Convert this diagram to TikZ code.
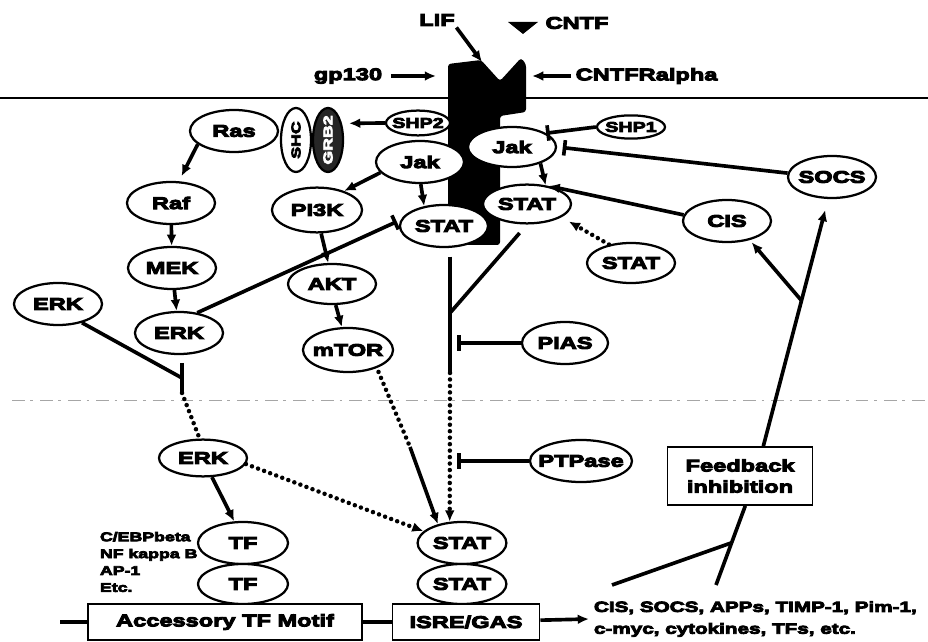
\documentclass[tikz,border=0pt]{standalone}
\usepackage{fontspec}
\usetikzlibrary{shapes.geometric,arrows.meta}
\newfontfamily\blk{Liberation Sans}[UprightFont=* Bold, FakeStretch=1.4, FakeBold=6]

\begin{document}
\begin{tikzpicture}[x=0.025cm, y=-0.025cm,
  prot/.style={ellipse, draw, line width=1.6pt, fill=white, inner xsep=-12pt, inner ysep=0pt,
    minimum width=2.2cm, minimum height=1.05cm, font=\blk\fontsize{12}{14}\selectfont},
  smallprot/.style={font=\blk\fontsize{10}{12}\selectfont},
  vprot/.style={minimum width=0.75cm, minimum height=1.6cm, inner ysep=-8pt, font=\blk\fontsize{9}{11}\selectfont},
  lbl/.style={inner sep=1pt, font=\blk\fontsize{12}{14}\selectfont},
  dnabox/.style={draw, line width=1.2pt, fill=white, inner sep=0pt, font=\blk\fontsize{12}{15}\selectfont},
  link/.style={line width=2.6pt},
  act/.style={link, -{Latex[length=8pt,width=7pt]}},
  inh/.style={link, -{Bar[width=11pt]}},
  dots/.style={line width=3.2pt, dash pattern=on 0pt off 4.6pt, line cap=round},
  dotact/.style={dots, -{Latex[length=8pt,width=7pt]}}]
  \useasboundingbox (0,0) rectangle (928,642);

  % Cell membrane and nuclear envelope
  \draw[line width=1pt] (0,98) -- (928,98);
  \draw[gray!70, line width=0.7pt, dash pattern=on 9pt off 4pt on 2pt off 5pt] (12,400) -- (928,400);

  % Receptor complex
  \fill[rounded corners=2pt] (448,64) -- (481,60) -- (500,81) -- (521,58) -- (526,64)
    -- (526,112) -- (500,116) -- (500,245) -- (448,245) -- cycle;
  \fill (508,22) -- (538,22) -- (523,34) -- cycle; % CNTF
  \coordinate (rLIF) at (482,62);
  \coordinate (rGp) at (436,76);
  \coordinate (rCr) at (532,76);

  \node[lbl] (lif) at (437,20) {LIF};
  \node[lbl] (cntf) at (577,23) {CNTF};
  \node[lbl] (gp) at (348,76) {gp130};
  \node[lbl, anchor=west] (cra) at (574,76) {CNTFRalpha};

  \draw[act] (lif.south east) -- (rLIF);
  \draw[act, shorten <=5pt] (gp) -- (rGp);
  \draw[act, shorten <=2pt] (cra) -- (rCr);

  % Cytoplasm
  \node[prot] (ras) at (234,131) {Ras};
  \node[prot, vprot] (shc) at (296,140) {\rotatebox{90}{SHC}};
  \node[prot, vprot, fill=black!85, text=white] (grb) at (328,140) {\rotatebox{90}{GRB2}};
  \node[prot, smallprot, minimum width=1.6cm, minimum height=0.62cm] (shp2) at (418,123) {SHP2};
  \node[prot] (jakL) at (420,162) {Jak};
  \node[prot, minimum height=1.0cm] (jakR) at (512,147) {Jak};
  \node[prot, smallprot, minimum width=1.7cm, minimum height=0.58cm] (shp1) at (631,127) {SHP1};
  \node[prot] (socs) at (832,177) {SOCS};
  \node[prot] (raf) at (171,203) {Raf};
  \node[prot, minimum width=2.25cm, minimum height=1.12cm] (pi3k) at (317,210) {PI3K};
  \node[prot] (statL) at (444,226) {STAT};
  \node[prot, minimum height=0.97cm] (statR) at (527,204) {STAT};
  \node[prot] (cis) at (727,221) {CIS};
  \node[prot, minimum height=1.0cm] (statC) at (631,263) {STAT};
  \node[prot] (mek) at (172,268) {MEK};
  \node[prot, minimum height=1.0cm] (akt) at (332,284) {AKT};
  \node[prot] (erkL) at (58,304) {ERK};
  \node[prot] (erkM) at (179,333) {ERK};
  \node[prot, minimum width=2.25cm, minimum height=1.1cm] (mtor) at (348,350) {mTOR};
  \node[prot, minimum width=2.15cm] (pias) at (565,343) {PIAS};

  % Nucleus
  \node[prot, minimum width=2.55cm] (ptp) at (581,461) {PTPase};
  \node[prot, minimum height=0.92cm] (erkN) at (203,458) {ERK};
  \node[prot, minimum width=2.25cm] (tf1) at (243,543) {TF};
  \node[prot, minimum width=2.25cm, minimum height=1.0cm] (tf2) at (243,584) {TF};
  \node[prot, minimum width=2.22cm] (statN1) at (462,543) {STAT};
  \node[prot, minimum width=2.22cm, minimum height=1.0cm] (statN2) at (462,584) {STAT};
  \node[anchor=west, align=left, font=\blk\fontsize{9}{12}\selectfont] (tfl) at (95,562)
    {C/EBPbeta\\NF kappa B\\AP-1\\Etc.};

  \node[dnabox, minimum width=6.85cm, minimum height=0.9cm] (acc) at (225,622) {Accessory TF Motif};
  \node[dnabox, minimum width=3.68cm, minimum height=0.9cm] (isre) at (466,622) {ISRE/GAS};
  \node[dnabox, align=center, minimum width=3.62cm, minimum height=1.45cm] (fbk) at (740,476)
    {Feedback\\inhibition};
  \node[anchor=west, align=left, font=\blk\fontsize{10.5}{15.5}\selectfont] (prod) at (589,619)
    {CIS, SOCS, APPs, TIMP-1, Pim-1,\\c-myc, cytokines, TFs, etc.};

  % Free ends of the connectors
  \coordinate (eTop) at (182,363);
  \coordinate (eMid) at (182,378);
  \coordinate (eBot) at (182,393);
  \coordinate (sJoin) at (450,313);
  \coordinate (sDot) at (450,373);
  \coordinate (piasB) at (457,343);
  \coordinate (ptpB) at (457,461);
  \coordinate (mKink) at (410,447);
  \coordinate (dnaL) at (60,622);
  \coordinate (pA) at (612,585);
  \coordinate (pB) at (716,585);
  \coordinate (fJoin) at (731,543);
  \coordinate (fFork) at (801,300);

  % Ras / MAPK branch
  \draw[act, shorten >=5pt] (shp2.west) -- (grb.50);
  \draw[act, shorten >=4pt] (ras.200) -- (raf.70);
  \draw[act] (raf) -- (mek);
  \draw[act] (mek) -- (erkM);
  \draw[inh, shorten >=3pt] (erkM.48) -- (statL.172);
  \draw[link] (erkL.-38) -- (eMid);
  \draw[link] (eTop) -- (eBot);
  \draw[dots] (eBot) -- (erkN.100);
  \draw[act] (erkN.-65) -- (tf1.112);
  \draw[dotact] (erkN.-8) -- (statN1.163);

  % PI3K branch
  \draw[act] (jakL.195) -- (pi3k.35);
  \draw[act] (pi3k.-80) -- (akt.100);
  \draw[act] (akt.-80) -- (mtor.105);
  \draw[dots, shorten <=3pt] (mtor.-32) -- (mKink);
  \draw[act] (mKink) -- (statN1.142);

  % Jak / STAT
  \draw[act] (jakL.-88) -- (statL.135);
  \draw[act] (jakR.-30) -- (statR.45);
  \draw[inh] (shp1.west) -- (jakR.22);
  \draw[inh, shorten >=4pt] (socs.175) -- (jakR.east);
  \draw[act] (cis.172) -- (statR.40);
  \draw[dotact, shorten >=6pt] (statC.140) -- (statR.-21);
  \draw[link, shorten <=6pt] (statL.south -| sDot) -- (sDot);
  \draw[link, shorten <=8pt] (statR.-90) -- (sJoin);
  \draw[dotact] (sDot) -- (statN1.120);
  \draw[inh] (pias) -- (piasB);
  \draw[inh] (ptp) -- (ptpB);

  % DNA and products
  \draw[link] (dnaL) -- (acc);
  \draw[link] (acc) -- (isre);
  \draw[act] (isre) -- (prod.west);

  % Feedback
  \draw[link] (pA) -- (fJoin);
  \draw[link] (pB) -- (fbk.-80);
  \draw[act, shorten >=8pt] (fbk.52) -- (socs.-100);
  \draw[act, shorten >=2pt] (fFork) -- (cis.-40);
\end{tikzpicture}
\end{document}
